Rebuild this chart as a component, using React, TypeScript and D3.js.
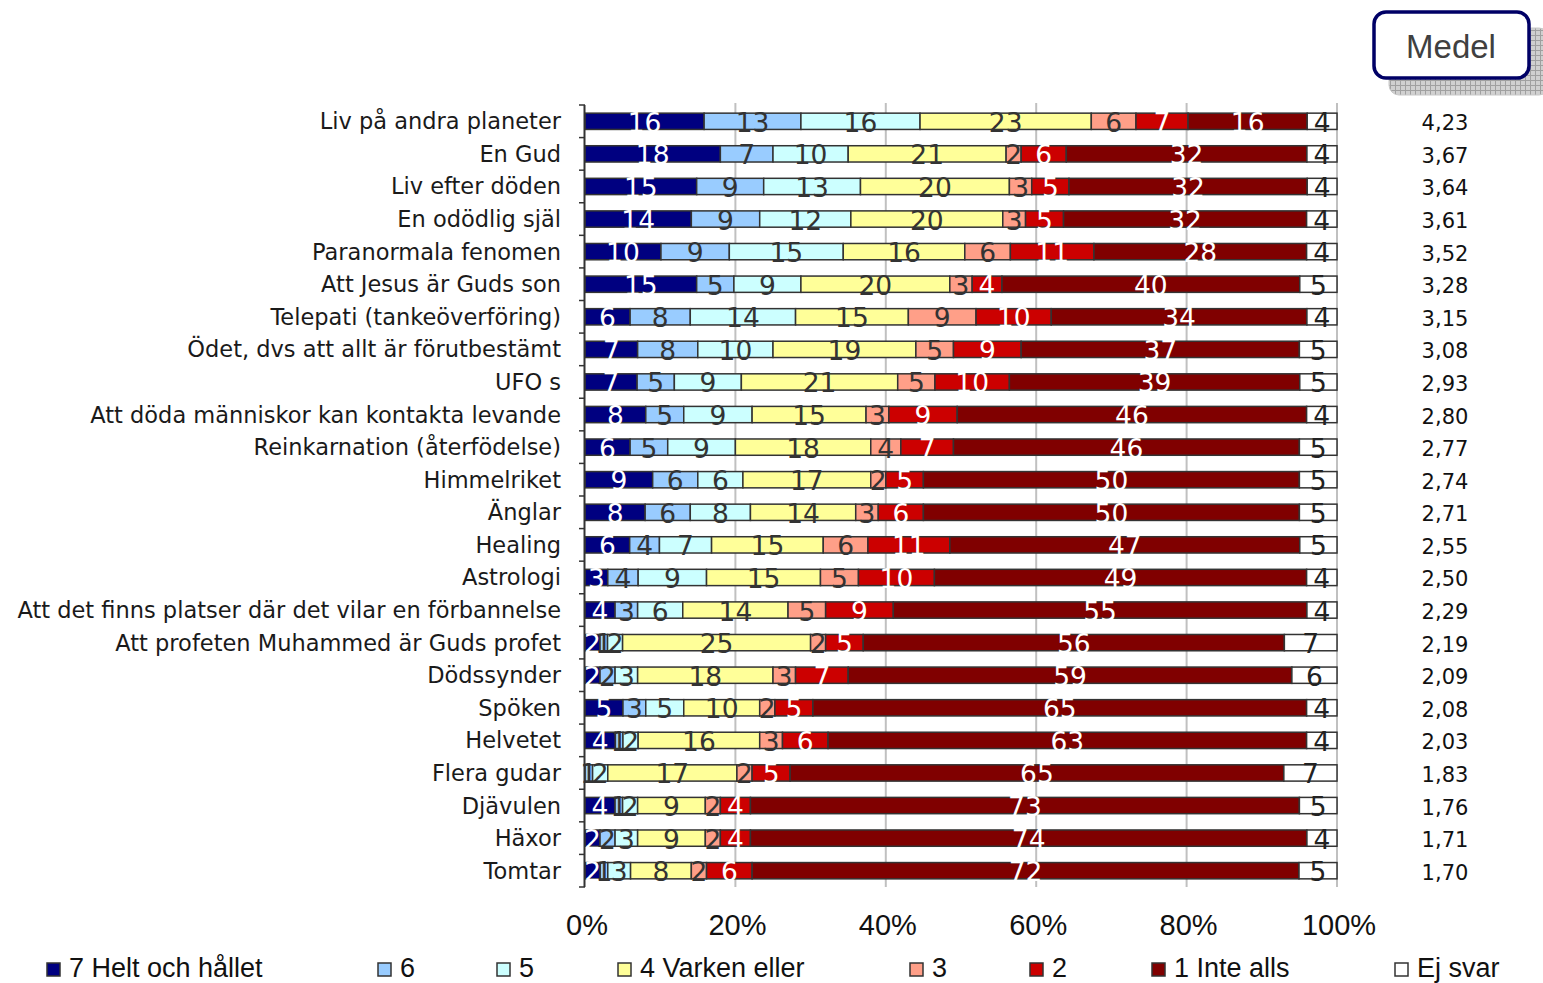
import { useEffect, useRef } from 'react';
import * as d3 from 'd3';

const categories = [
  'Liv på andra planeter',
  'En Gud',
  'Liv efter döden',
  'En odödlig själ',
  'Paranormala fenomen',
  'Att Jesus är Guds son',
  'Telepati (tankeöverföring)',
  'Ödet, dvs att allt är förutbestämt',
  'UFO s',
  'Att döda människor kan kontakta levande',
  'Reinkarnation (återfödelse)',
  'Himmelriket',
  'Änglar',
  'Healing',
  'Astrologi',
  'Att det finns platser där det vilar en förbannelse',
  'Att profeten Muhammed är Guds profet',
  'Dödssynder',
  'Spöken',
  'Helvetet',
  'Flera gudar',
  'Djävulen',
  'Häxor',
  'Tomtar',
];

// one array per answer option, same order as categories
const heltOchHallet = [16, 18, 15, 14, 10, 15, 6, 7, 7, 8, 6, 9, 8, 6, 3, 4, 2, 2, 5, 4, 0, 4, 2, 2];
const sex = [13, 7, 9, 9, 9, 5, 8, 8, 5, 5, 5, 6, 6, 4, 4, 3, 1, 2, 3, 1, 1, 1, 2, 1];
const fem = [16, 10, 13, 12, 15, 9, 14, 10, 9, 9, 9, 6, 8, 7, 9, 6, 2, 3, 5, 2, 2, 2, 3, 3];
const varkenEller = [23, 21, 20, 20, 16, 20, 15, 19, 21, 15, 18, 17, 14, 15, 15, 14, 25, 18, 10, 16, 17, 9, 9, 8];
const tre = [6, 2, 3, 3, 6, 3, 9, 5, 5, 3, 4, 2, 3, 6, 5, 5, 2, 3, 2, 3, 2, 2, 2, 2];
const tva = [7, 6, 5, 5, 11, 4, 10, 9, 10, 9, 7, 5, 6, 11, 10, 9, 5, 7, 5, 6, 5, 4, 4, 6];
const inteAlls = [16, 32, 32, 32, 28, 40, 34, 37, 39, 46, 46, 50, 50, 47, 49, 55, 56, 59, 65, 63, 65, 73, 74, 72];
const ejSvar = [4, 4, 4, 4, 4, 5, 4, 5, 5, 4, 5, 5, 5, 5, 4, 4, 7, 6, 4, 4, 7, 5, 4, 5];

const medel = [4.23, 3.67, 3.64, 3.61, 3.52, 3.28, 3.15, 3.08, 2.93, 2.8, 2.77, 2.74, 2.71, 2.55, 2.5, 2.29, 2.19, 2.09, 2.08, 2.03, 1.83, 1.76, 1.71, 1.7];

const xTicks = [0, 0.2, 0.4, 0.6, 0.8, 1];

const seriesList = [
  { name: '7 Helt och hållet', values: heltOchHallet, fill: '#000080', text: '#ffffff' },
  { name: '6', values: sex, fill: '#99ccff', text: '#333333' },
  { name: '5', values: fem, fill: '#ccffff', text: '#333333' },
  { name: '4 Varken eller', values: varkenEller, fill: '#ffff99', text: '#333333' },
  { name: '3', values: tre, fill: '#ff9f88', text: '#333333' },
  { name: '2', values: tva, fill: '#cc0000', text: '#ffffff' },
  { name: '1 Inte alls', values: inteAlls, fill: '#800000', text: '#ffffff' },
  { name: 'Ej svar', values: ejSvar, fill: '#ffffff', text: '#222222' },
];

const legendX = [47, 378, 497, 618, 910, 1030, 1152, 1395];

const labelFont = 'DejaVu Sans, Verdana, sans-serif';
const arialFont = '"Liberation Sans", Arial, sans-serif';

export default function App() {
  const ref = useRef<SVGSVGElement>(null);

  useEffect(() => {
    const svg = d3.select(ref.current);
    svg.selectAll('*').remove();

    const x0 = 585;
    const x1 = 1337;
    const top = 105;
    const bottom = 887;

    const x = d3.scaleLinear().domain([0, 1]).range([x0, x1]);
    const y = d3
      .scaleBand()
      .domain(categories)
      .range([top, bottom])
      .paddingInner(0.5)
      .paddingOuter(0.25);
    const rowEdge = d3.scaleLinear().domain([0, categories.length]).range([top, bottom]);

    // gridlines
    svg
      .append('g')
      .selectAll('line')
      .data(xTicks.slice(1))
      .enter()
      .append('line')
      .attr('x1', d => x(d))
      .attr('x2', d => x(d))
      .attr('y1', top - 2)
      .attr('y2', bottom)
      .attr('stroke', '#c0c0c0')
      .attr('stroke-width', 2);

    // stacked rows (100 %)
    const rows = categories.map((c, i) => {
      const vals = seriesList.map(s => s.values[i]);
      const total = d3.sum(vals);
      let acc = 0;
      return vals.map((v, k) => {
        const start = acc / total;
        acc += v;
        return { cat: c, k, v, start, end: acc / total };
      });
    });

    const segs = rows.flat();

    svg
      .append('g')
      .selectAll('rect')
      .data(segs.filter(d => d.v > 0))
      .enter()
      .append('rect')
      .attr('x', d => x(d.start))
      .attr('width', d => x(d.end) - x(d.start))
      .attr('y', d => y(d.cat))
      .attr('height', y.bandwidth())
      .attr('fill', d => seriesList[d.k].fill)
      .attr('stroke', '#333333')
      .attr('stroke-width', 1.5);

    svg
      .append('g')
      .selectAll('text')
      .data(segs.filter(d => d.v > 0))
      .enter()
      .append('text')
      .attr('x', d => (x(d.start) + x(d.end)) / 2)
      .attr('y', d => y(d.cat) + y.bandwidth() / 2 + 10.5)
      .attr('text-anchor', 'middle')
      .style('font-family', labelFont)
      .style('font-size', '26.5px')
      .attr('fill', d => seriesList[d.k].text)
      .text(d => d.v);

    // y axis
    const axis = svg.append('g');
    axis
      .append('line')
      .attr('x1', x0 - 0.5)
      .attr('x2', x0 - 0.5)
      .attr('y1', top)
      .attr('y2', bottom)
      .attr('stroke', '#333333')
      .attr('stroke-width', 2);
    axis
      .selectAll('.tick')
      .data(d3.range(categories.length + 1))
      .enter()
      .append('line')
      .attr('x1', x0 - 6)
      .attr('x2', x0)
      .attr('y1', d => rowEdge(d))
      .attr('y2', d => rowEdge(d))
      .attr('stroke', '#333333')
      .attr('stroke-width', 1.5);

    svg
      .append('g')
      .selectAll('text')
      .data(categories)
      .enter()
      .append('text')
      .attr('x', 561)
      .attr('y', d => y(d) + y.bandwidth() / 2 + 8)
      .attr('text-anchor', 'end')
      .style('font-family', labelFont)
      .style('font-size', '22.5px')
      .attr('fill', '#1a1a1a')
      .text(d => d);

    // x tick labels
    svg
      .append('g')
      .selectAll('text')
      .data(xTicks)
      .enter()
      .append('text')
      .attr('x', d => x(d) + 2)
      .attr('y', 935)
      .attr('text-anchor', 'middle')
      .style('font-family', arialFont)
      .style('font-size', '29px')
      .attr('fill', '#111111')
      .text(d => d3.format('.0%')(d));

    // medel values
    svg
      .append('g')
      .selectAll('text')
      .data(medel)
      .enter()
      .append('text')
      .attr('x', 1445)
      .attr('y', (d, i) => y(categories[i]) + y.bandwidth() / 2 + 9)
      .attr('text-anchor', 'middle')
      .style('font-family', labelFont)
      .style('font-size', '21px')
      .attr('fill', '#111111')
      .text(d => d3.format('.2f')(d).replace('.', ','));

    // Medel box with hatched shadow
    const defs = svg.append('defs');
    const pat = defs
      .append('pattern')
      .attr('id', 'hatch')
      .attr('width', 5)
      .attr('height', 5)
      .attr('patternUnits', 'userSpaceOnUse');
    pat.append('rect').attr('width', 5).attr('height', 5).attr('fill', '#d0d0d0');
    pat
      .append('path')
      .attr('d', 'M0,0.5H5M0.5,0V5')
      .attr('stroke', '#a0a0a0')
      .attr('stroke-width', 1);

    svg
      .append('rect')
      .attr('x', 1389)
      .attr('y', 28)
      .attr('width', 160)
      .attr('height', 67)
      .attr('rx', 10)
      .attr('fill', 'url(#hatch)')
      .attr('stroke', '#c8c8c8');
    svg
      .append('rect')
      .attr('x', 1374)
      .attr('y', 12)
      .attr('width', 155)
      .attr('height', 66)
      .attr('rx', 12)
      .attr('fill', '#ffffff')
      .attr('stroke', '#000066')
      .attr('stroke-width', 3.5);
    svg
      .append('text')
      .attr('x', 1451)
      .attr('y', 58)
      .attr('text-anchor', 'middle')
      .style('font-family', arialFont)
      .style('font-size', '33px')
      .attr('fill', '#404040')
      .text('Medel');

    // legend
    const legendItem = svg
      .append('g')
      .selectAll('g')
      .data(seriesList)
      .enter()
      .append('g')
      .attr('transform', (d, i) => `translate(${legendX[i]}, 963)`);
    legendItem
      .append('rect')
      .attr('width', 13)
      .attr('height', 13)
      .attr('fill', d => d.fill)
      .attr('stroke', '#333333')
      .attr('stroke-width', 1.5);
    legendItem
      .append('text')
      .attr('x', 22)
      .attr('y', 14)
      .style('font-family', arialFont)
      .style('font-size', '27px')
      .attr('fill', '#111111')
      .text(d => d.name);
  }, []);

  return (
    <svg
      ref={ref}
      width={1543}
      height={983}
      style={{ position: 'absolute', left: 0, top: 0, background: '#ffffff', display: 'block' }}
    />
  );
}
